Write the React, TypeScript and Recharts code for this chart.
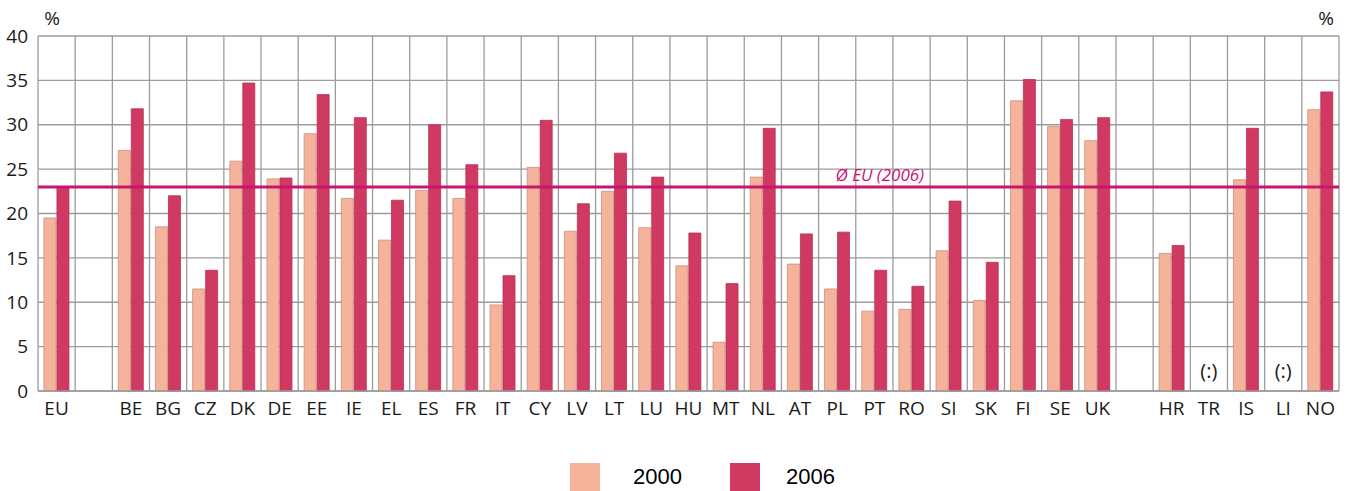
import React from 'react';
import {
  BarChart,
  Bar,
  XAxis,
  YAxis,
  CartesianGrid,
  ReferenceLine,
  ReferenceDot,
  Legend,
} from 'recharts';

const categories = [
  'EU', '', 'BE', 'BG', 'CZ', 'DK', 'DE', 'EE', 'IE', 'EL', 'ES', 'FR', 'IT', 'CY', 'LV', 'LT', 'LU',
  'HU', 'MT', 'NL', 'AT', 'PL', 'PT', 'RO', 'SI', 'SK', 'FI', 'SE', 'UK', ' ', 'HR', 'TR', 'IS', 'LI', 'NO',
];
const values2000: (number | null)[] = [
  19.5, null, 27.1, 18.5, 11.5, 25.9, 23.9, 29.0, 21.7, 17.0, 22.6, 21.7, 9.7, 25.2, 18.0, 22.5, 18.4,
  14.1, 5.5, 24.1, 14.3, 11.5, 9.0, 9.2, 15.8, 10.2, 32.7, 29.8, 28.2, null, 15.5, null, 23.8, null, 31.7,
];
const values2006: (number | null)[] = [
  23.0, null, 31.8, 22.0, 13.6, 34.7, 24.0, 33.4, 30.8, 21.5, 30.0, 25.5, 13.0, 30.5, 21.1, 26.8, 24.1,
  17.8, 12.1, 29.6, 17.7, 17.9, 13.6, 11.8, 21.4, 14.5, 35.1, 30.6, 30.8, null, 16.4, null, 29.6, null, 33.7,
];
const notAvailable = ['TR', 'LI'];
const yTicks = [0, 5, 10, 15, 20, 25, 30, 35, 40];
const euAverage2006 = 23;
const seriesNames = ['2000', '2006'];
const refLabel = 'Ø EU (2006)';

const data = categories.map((name, i) => ({
  name,
  v2000: values2000[i],
  v2006: values2006[i],
}));

const COLOR_2000 = '#F5B39B';
const COLOR_2006 = '#D03A62';
const LINE_COLOR = '#C8156E';
const GRID = '#9C9C9C';
const FONT = '"Open Sans", "Noto Sans", sans-serif';

const LegendContent = () => (
  <div
    style={{
      display: 'flex',
      justifyContent: 'flex-start',
      alignItems: 'center',
      fontFamily: '"Liberation Sans", Arial, sans-serif',
      fontSize: 22,
      color: '#000',
      paddingLeft: 570,
      height: 28,
    }}
  >
    {seriesNames.map((n, i) => (
      <div key={n} style={{ display: 'flex', alignItems: 'center', marginLeft: i === 0 ? 0 : 48 }}>
        <div
          style={{
            width: 30,
            height: 28,
            background: i === 0 ? COLOR_2000 : COLOR_2006,
            marginRight: i === 0 ? 33 : 26,
          }}
        />
        <span style={{ lineHeight: '28px' }}>{n}</span>
      </div>
    ))}
  </div>
);

export default function App() {
  const n = categories.length;
  return (
    <div style={{ position: 'absolute', left: 0, top: 0, width: 1371, height: 491, background: '#fff' }}>
      <BarChart
        width={1371}
        height={491}
        data={data}
        margin={{ top: 36, right: 0, bottom: 70, left: 0 }}
        barCategoryGap="16%"
        barGap={1}
        style={{ overflow: 'visible' }}
      >
        <CartesianGrid
          yAxisId="left"
          stroke={GRID}
          strokeWidth={1.3}
          verticalCoordinatesGenerator={({ offset }: any) =>
            Array.from({ length: n + 1 }, (_, i) => offset.left + (i * offset.width) / n)
          }
        />
        <XAxis
          dataKey="name"
          interval={0}
          tickLine={false}
          axisLine={{ stroke: GRID, strokeWidth: 1.3 }}
          height={30}
          tickMargin={5}
          tick={{ fill: '#1a1a1a', fontSize: 19, fontFamily: FONT }}
        />
        <YAxis
          yAxisId="left"
          orientation="left"
          width={38}
          domain={[0, 40]}
          ticks={yTicks}
          tickLine={false}
          axisLine={false}
          tickMargin={4}
          tick={{ fill: '#1a1a1a', fontSize: 19, fontFamily: FONT }}
          label={{
            content: (props: any) => {
              const vb = props.viewBox;
              return (
                <text x={vb.x + vb.width + 14} y={vb.y - 11} textAnchor="middle" fill="#1a1a1a" fontSize={19} fontFamily={FONT}>
                  %
                </text>
              );
            },
          }}
        />
        <YAxis
          yAxisId="right"
          orientation="right"
          width={32}
          domain={[0, 40]}
          ticks={yTicks}
          tickLine={false}
          axisLine={false}
          tickMargin={4}
          tick={{ fill: '#1a1a1a', fontSize: 19, fontFamily: FONT, textAnchor: 'start' }}
          label={{
            content: (props: any) => {
              const vb = props.viewBox;
              return (
                <text x={vb.x - 13} y={vb.y - 11} textAnchor="middle" fill="#1a1a1a" fontSize={19} fontFamily={FONT}>
                  %
                </text>
              );
            },
          }}
        />
        <Bar
          yAxisId="left"
          dataKey="v2000"
          name={seriesNames[0]}
          fill={COLOR_2000}
          stroke="#C8907C"
          strokeWidth={0.8}
          isAnimationActive={false}
        />
        <Bar
          yAxisId="left"
          dataKey="v2006"
          name={seriesNames[1]}
          fill={COLOR_2006}
          stroke="#B83055"
          strokeWidth={0.8}
          isAnimationActive={false}
        />
        <ReferenceLine
          yAxisId="left"
          y={euAverage2006}
          stroke={LINE_COLOR}
          strokeWidth={3}
          label={{
            content: (props: any) => {
              const vb = props.viewBox;
              return (
                <text
                  x={vb.x + vb.width * 0.647}
                  y={vb.y - 6}
                  textAnchor="middle"
                  fill={LINE_COLOR}
                  fontSize={17}
                  fontStyle="italic"
                  fontFamily={FONT}
                >
                  {refLabel}
                </text>
              );
            },
          }}
        />
        {notAvailable.map((c) => (
          <ReferenceDot
            key={c}
            yAxisId="left"
            x={c}
            y={2.3}
            r={0}
            fill="none"
            stroke="none"
            label={{ value: '(:)', position: 'center', fill: '#1a1a1a', fontSize: 20, fontFamily: FONT }}
          />
        ))}
        <Legend
          verticalAlign="middle"
          align="center"
          layout="horizontal"
          wrapperStyle={{ top: 463, left: 0, width: 1371, height: 28 }}
          content={<LegendContent />}
        />
      </BarChart>
    </div>
  );
}
